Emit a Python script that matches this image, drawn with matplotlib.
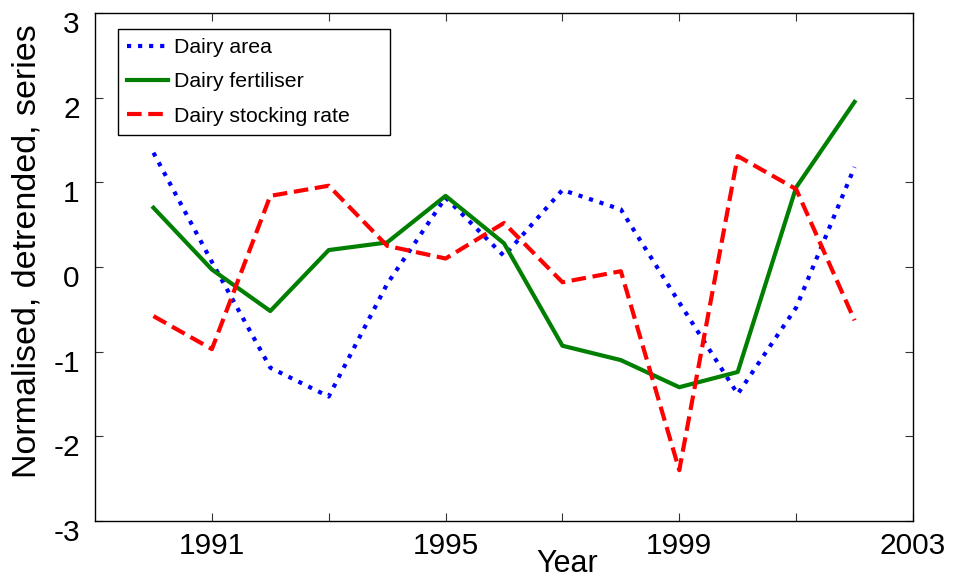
"""Normalised, detrended dairy series 1990-2002 (MATLAB-style line chart)."""

import matplotlib
matplotlib.use("Agg")
import matplotlib.pyplot as plt
from matplotlib.transforms import ScaledTranslation

plt.rcParams["font.family"] = ["Liberation Sans", "DejaVu Sans"]

OUT = "out.png"

years = list(range(1990, 2003))
dairy_area = [1.35, 0.06, -1.19, -1.53, -0.20, 0.82, 0.13, 0.91, 0.68,
              -0.42, -1.50, -0.48, 1.18]
dairy_fertiliser = [0.70, -0.03, -0.52, 0.20, 0.29, 0.84, 0.28, -0.93, -1.10,
                    -1.42, -1.24, 0.94, 1.95]
dairy_stocking = [-0.58, -0.97, 0.84, 0.96, 0.25, 0.10, 0.52, -0.18, -0.05,
                  -2.40, 1.31, 0.92, -0.63]

xticks = list(range(1991, 2004, 2))
xticklabels = ["1991", "", "1995", "", "1999", "", "2003"]
yticks = [-3, -2, -1, 0, 1, 2, 3]

fig = plt.figure(figsize=(9.57, 5.81), dpi=100)
ax = fig.add_axes([0.0993, 0.1033, 0.8547, 0.8743])

ax.plot(years, dairy_area, color="#0000ff", linewidth=3, linestyle=":",
        label="Dairy area")
ax.plot(years, dairy_fertiliser, color="#007f00", linewidth=3, linestyle="-",
        label="Dairy fertiliser")
ax.plot(years, dairy_stocking, color="#ff0000", linewidth=3,
        linestyle=(0, (3.5, 1.6)), label="Dairy stocking rate")

ax.set_xlim(1989, 2003)
ax.set_ylim(-3, 3)
ax.set_xticks(xticks)
ax.set_xticklabels(xticklabels, fontsize=21.5)
ax.set_yticks(yticks)
ax.set_yticklabels([str(v) for v in yticks], fontsize=21.5)
ax.tick_params(direction="in", length=6, width=0.8, top=True, right=True,
               color="#333333")
ax.tick_params(axis="x", pad=8)
ax.tick_params(axis="y", pad=11)

# MATLAB puts y tick labels a bit below their ticks
shift = ScaledTranslation(0, -9 / 100, fig.dpi_scale_trans)
for lab in ax.get_yticklabels():
    lab.set_transform(lab.get_transform() + shift)

for sp in ax.spines.values():
    sp.set_linewidth(1.0)

ax.set_xlabel("Year", fontsize=22)
ax.xaxis.set_label_coords(0.577, -0.056)
ax.set_ylabel("Normalised, detrended, series", fontsize=24.5)
ax.yaxis.set_label_coords(-0.064, 0.531)

leg = ax.legend(loc="upper left", bbox_to_anchor=(0.028, 0.968, 0.3325, 0.0),
                mode="expand", borderaxespad=0, fontsize=15.3, fancybox=False,
                edgecolor="black", framealpha=1, handlelength=1.95,
                handletextpad=0.25, labelspacing=0.72, borderpad=0.42)
leg.get_frame().set_linewidth(1.0)

plt.savefig(OUT, dpi=100, facecolor="white")
plt.close()
print(f"Saved -> {OUT}")
